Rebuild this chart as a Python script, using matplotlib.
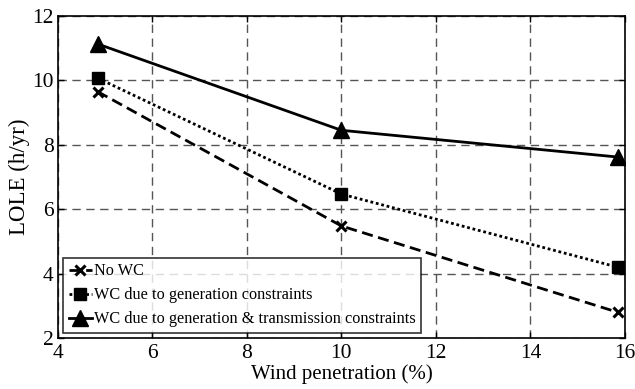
import matplotlib
matplotlib.use("Agg")
import matplotlib.pyplot as plt

wind_pen = [4.84, 10.0, 15.85]
no_wc = [9.65, 5.48, 2.8]
wc_gen = [10.07, 6.47, 4.2]
wc_gen_trans = [11.13, 8.45, 7.62]
labels = ["No WC", "WC due to generation constraints",
          "WC due to generation & transmission constraints"]
xticks = [4, 6, 8, 10, 12, 14, 16]
yticks = [2, 4, 6, 8, 10, 12]

plt.rcParams['font.family'] = ['Liberation Serif', 'DejaVu Serif']

fig = plt.figure(figsize=(6.35, 3.89), dpi=100)
ax = fig.add_axes([0.0913, 0.131, 0.8927, 0.828])

ax.plot(wind_pen, no_wc, linestyle=(0, (4, 2)), color='black', lw=2,
        marker='x', markersize=7, mew=2.2, label=labels[0])
ax.plot(wind_pen, wc_gen, linestyle=(0, (1, 1)), color='black', lw=2,
        marker='s', markersize=9, label=labels[1])
ax.plot(wind_pen, wc_gen_trans, linestyle='-', color='black', lw=2,
        marker='^', markersize=12, label=labels[2])

ax.set_xlim(4, 16)
ax.set_ylim(2, 12)
ax.set_xticks(xticks)
ax.set_yticks(yticks)
ax.grid(True, color='#555555', linestyle=(0, (6, 4)), lw=1)
ax.tick_params(direction='in', labelsize=15.5, length=4, width=1, top=True, right=True)
ax.tick_params(axis='x', pad=4)
ax.tick_params(axis='y', pad=3)
for s in ax.spines.values():
    s.set_linewidth(1.2)
ax.set_xlabel("Wind penetration (%)", fontsize=15, labelpad=1)
ax.set_ylabel("LOLE (h/yr)", fontsize=16.5, labelpad=2)

leg = ax.legend(loc='lower left', fontsize=11.7, frameon=True, fancybox=False,
                edgecolor='black', handlelength=1.45, handletextpad=0.1,
                borderpad=0.35, labelspacing=0.5, borderaxespad=0.3)
leg.get_frame().set_linewidth(1.2)

fig.savefig("out.png", dpi=100)
